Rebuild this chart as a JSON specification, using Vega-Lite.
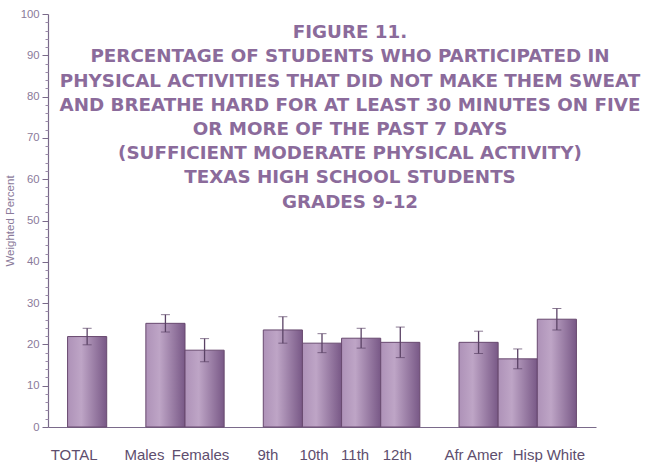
{
  "$schema": "https://vega.github.io/schema/vega-lite/v6.json",
  "width": 548,
  "height": 413,
  "autosize": {"type": "none"},
  "padding": {"left": 48, "top": 14, "right": 51, "bottom": 35},
  "background": "#ffffff",
  "title": {
    "text": ["FIGURE 11.", "PERCENTAGE OF STUDENTS WHO PARTICIPATED IN", "PHYSICAL ACTIVITIES THAT DID NOT MAKE THEM SWEAT", "AND BREATHE HARD FOR AT LEAST 30 MINUTES ON FIVE", "OR MORE OF THE PAST 7 DAYS", "(SUFFICIENT MODERATE PHYSICAL ACTIVITY)", "TEXAS HIGH  SCHOOL STUDENTS", "GRADES 9-12"],
    "anchor": "middle",
    "orient": "top",
    "baseline": "top",
    "offset": 0,
    "dx": 28,
    "dy": 204,
    "font": "DejaVu Sans",
    "fontSize": 18.3,
    "fontWeight": "bold",
    "lineHeight": 24.2,
    "color": "#8b6b9b"
  },
  "data": {
    "values": [
      {"group": "TOTAL", "value": 21.9, "err": 2.0},
      {"group": "Males", "value": 25.1, "err": 2.1},
      {"group": "Females", "value": 18.6, "err": 2.8},
      {"group": "9th", "value": 23.5, "err": 3.2},
      {"group": "10th", "value": 20.3, "err": 2.3},
      {"group": "11th", "value": 21.5, "err": 2.4},
      {"group": "12th", "value": 20.5, "err": 3.7},
      {"group": "Afr Amer", "value": 20.5, "err": 2.7},
      {"group": "Hisp", "value": 16.5, "err": 2.4},
      {"group": "White", "value": 26.1, "err": 2.6}
    ]
  },
  "encoding": {
    "x": {
      "field": "group",
      "type": "nominal",
      "sort": null,
      "scale": {
        "domain": ["TOTAL", " ", "Males", "Females", "  ", "9th", "10th", "11th", "12th", "   ", "Afr Amer", "Hisp", "White"],
        "paddingInner": 0,
        "paddingOuter": 0.5
      },
      "axis": {
        "title": null,
        "labelAngle": 0,
        "labelFont": "Liberation Sans",
        "labelFontSize": 15,
        "labelColor": "#5e4e6e",
        "labelPadding": 20,
        "ticks": false,
        "domainColor": "#7a6a8a",
        "domainWidth": 1.2,
        "labelOffset": {
          "condition": [
            {"test": "datum.value === 'TOTAL'", "value": -13},
            {"test": "datum.value === 'Males'", "value": -21},
            {"test": "datum.value === 'Females'", "value": -4},
            {"test": "datum.value === '9th'", "value": -15},
            {"test": "datum.value === '10th'", "value": -8},
            {"test": "datum.value === '11th'", "value": -6},
            {"test": "datum.value === '12th'", "value": -3},
            {"test": "datum.value === 'Afr Amer'", "value": -5},
            {"test": "datum.value === 'Hisp'", "value": 10},
            {"test": "datum.value === 'White'", "value": 9}
          ],
          "value": 0
        }
      }
    }
  },
  "layer": [
    {
      "mark": {
        "type": "bar",
        "stroke": "#68496f",
        "strokeWidth": 1,
        "color": {
          "gradient": "linear",
          "x1": 0, "x2": 1, "y1": 0, "y2": 0,
          "stops": [
            {"offset": 0, "color": "#ae92b8"},
            {"offset": 0.35, "color": "#bea5c6"},
            {"offset": 1, "color": "#785886"}
          ]
        }
      },
      "encoding": {
        "y": {
          "field": "value",
          "type": "quantitative",
          "scale": {"domain": [0, 100], "nice": false},
          "axis": {
            "title": "Weighted Percent",
            "titleFont": "Liberation Sans",
            "titleFontSize": 11.5,
            "titleFontWeight": "normal",
            "titleColor": "#8a7a9a",
            "titlePadding": 5,
            "values": [0, 10, 20, 30, 40, 50, 60, 70, 80, 90, 100],
            "labelFont": "Liberation Sans",
            "labelFontSize": 11.3,
            "labelColor": "#8a7a9a",
            "labelPadding": 3,
            "tickSize": 6,
            "tickColor": "#7a6a8a",
            "domainColor": "#7a6a8a",
            "domainWidth": 1.2,
            "grid": false
          }
        }
      }
    },
    {
      "mark": {
        "type": "errorbar",
        "ticks": {"size": 9, "color": "#5a4265", "strokeWidth": 1.3},
        "rule": {"color": "#5a4265", "strokeWidth": 1.3}
      },
      "encoding": {
        "y": {
          "field": "value",
          "type": "quantitative",
          "axis": {
            "orient": "left",
            "title": null,
            "labels": false,
            "domain": false,
            "grid": false,
            "tickSize": 3,
            "tickColor": "#9a8aa8",
            "values": [2, 4, 6, 8, 12, 14, 16, 18, 22, 24, 26, 28, 32, 34, 36, 38, 42, 44, 46, 48, 52, 54, 56, 58, 62, 64, 66, 68, 72, 74, 76, 78, 82, 84, 86, 88, 92, 94, 96, 98]
          }
        },
        "yError": {"field": "err"}
      }
    }
  ],
  "resolve": {"axis": {"y": "independent"}},
  "config": {"view": {"stroke": null}}
}
